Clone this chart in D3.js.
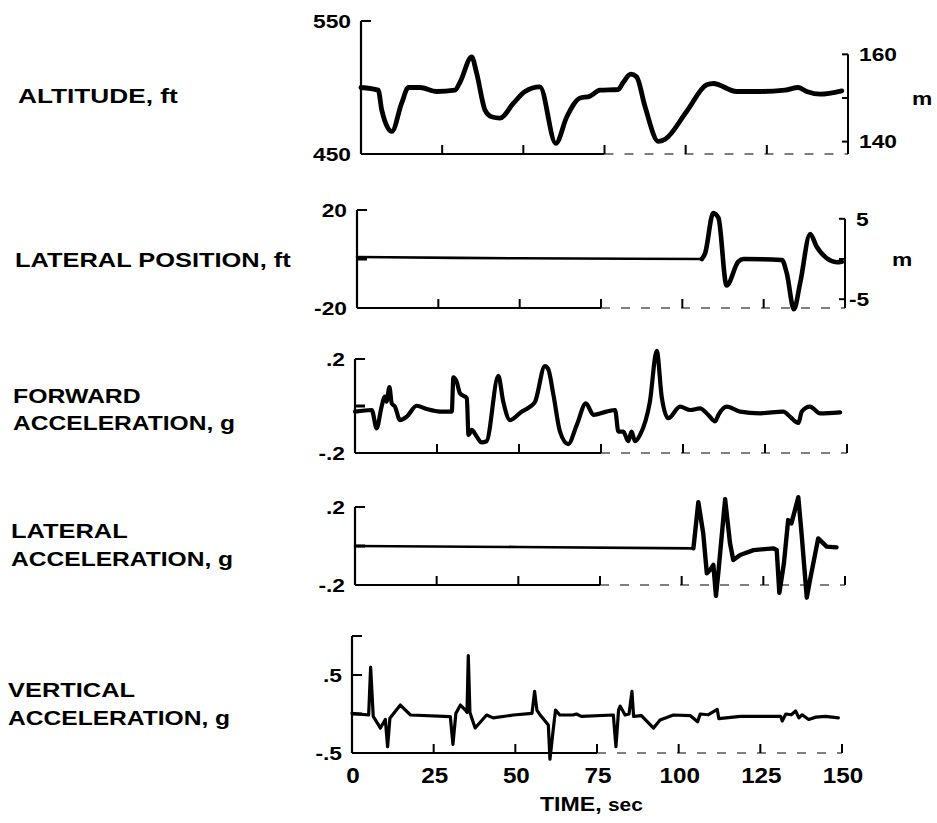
<!DOCTYPE html>
<html>
<head>
<meta charset="utf-8">
<script src="https://cdn.jsdelivr.net/npm/d3@7"></script>
<style>
  html, body { margin: 0; padding: 0; background: #fff; }
  svg { display: block; }
  text { font-family: "Liberation Sans", Arial, Helvetica, sans-serif; font-weight: bold; fill: #000; }
</style>
</head>
<body>
<svg id="chart" width="937" height="823"></svg>
<script>
// ---- Flight record: time histories over a 150 s run ----
const FT_PER_M = 3.28084;

// Shared time axis
const timeTicks = [0, 25, 50, 75, 100, 125, 150];
const timeTickLabels = ["0", "25", "50", "75", "100", "125", "150"];

// Altitude, ft
const altitudeTime = [0, 5.3, 6.4, 9.5, 12.5, 14.6, 18.2, 23.3, 28.9, 30.5, 34.1, 35.6, 38.2, 40.2, 42.8, 46.9, 50.5, 55.1, 60.0, 63.4, 67.4, 70.5, 73.6, 79.2, 80.8, 83.1, 84.9, 87.5, 91.6, 93.6, 100.3, 106.5, 108.5, 115.7, 122.9, 130.6, 134.7, 137.3, 141.4, 148.1];
const altitudeFt = [500, 498, 483, 467, 488, 500, 500, 497, 498, 504, 523, 511, 483, 478, 477, 488, 497, 500.5, 458, 478, 492, 493.5, 498, 498.5, 504, 510, 508, 485.5, 459.5, 461, 482, 502, 503, 497, 497, 498, 500, 497, 495, 497.5];
const altitudeTicks = [450, 500, 550];
const altitudeTickLabels = ["450", "", "550"];
const altitudeMetreTicks = [140, 150, 160];
const altitudeMetreLabels = ["140", "", "160"];

// Lateral position, ft
const lateralPosTime = [0, 50, 106, 107, 109.5, 111.1, 113.6, 117.2, 118.8, 130.6, 132.1, 134.3, 136.2, 139.3, 141.3, 144.4, 147.5, 149];
const lateralPosFt = [0.8, 0.3, 0, 2.3, 18.8, 16.8, -10.8, -1.1, 0, -0.4, -5.8, -20.5, -9.9, 10.2, 5, 0.3, -1.3, -1.1];
const lateralPosTicks = [-20, 0, 20];
const lateralPosTickLabels = ["-20", "", "20"];
const lateralPosMetreTicks = [-5, 0, 5];
const lateralPosMetreLabels = ["-5", "", "5"];

// Forward acceleration, g
const forwardAccTime = [0, 5.1, 6.6, 8.1, 9.1, 9.6, 10.5, 11.2, 12.2, 13.7, 15.8, 18.8, 21.9, 25.9, 29.5, 30.0, 31.0, 32.0, 34.1, 34.6, 35.6, 37.1, 38.6, 40.1, 43.7, 45.2, 47.3, 50.8, 53.4, 54.9, 57.9, 58.9, 60.5, 62.5, 65.0, 67.6, 70.4, 72.7, 76.7, 79.3, 80.3, 81.8, 83.3, 84.3, 85.4, 86.9, 89.9, 92.0, 93.5, 95.5, 99.1, 102.2, 105.2, 107.7, 109.8, 110.8, 113.3, 117.4, 123.5, 130.6, 132.6, 135.2, 136.2, 138.7, 141.8, 147.9];
const forwardAccG = [-0.024, -0.017, -0.095, -0.003, 0.04, 0.018, 0.08, 0.011, -0.003, -0.06, -0.045, 0.001, -0.013, -0.024, -0.024, 0.122, 0.103, 0.054, 0.033, -0.123, -0.102, -0.13, -0.155, -0.15, 0.128, 0.018, -0.06, -0.024, -0.003, 0.018, 0.17, 0.157, 0.047, -0.109, -0.162, -0.081, 0.011, -0.038, -0.024, -0.017, -0.109, -0.109, -0.15, -0.109, -0.15, -0.123, 0.018, 0.235, 0.04, -0.052, -0.003, -0.017, -0.01, -0.038, -0.065, -0.038, -0.003, -0.024, -0.031, -0.024, -0.045, -0.072, -0.024, -0.003, -0.031, -0.027];
const forwardAccTicks = [-0.2, 0, 0.2];
const forwardAccTickLabels = ["-.2", "", ".2"];

// Lateral acceleration, g
const lateralAccTime = [0, 50, 103.6, 105.1, 106.6, 107.7, 108.7, 109.7, 110.5, 111.3, 113.3, 114.8, 115.8, 117.9, 122.0, 128.0, 129.1, 129.9, 131.3, 132.6, 133.6, 135.7, 136.7, 138.3, 139.3, 141.8, 144.4, 147.4];
const lateralAccG = [0, -0.005, -0.012, 0.225, 0.065, -0.14, -0.123, -0.097, -0.255, -0.123, 0.24, 0.014, -0.072, -0.046, -0.021, -0.012, -0.021, -0.24, -0.089, 0.133, 0.116, 0.25, 0.065, -0.265, -0.174, 0.039, -0.003, -0.007];
const lateralAccTicks = [-0.2, 0, 0.2];
const lateralAccTickLabels = ["-.2", "", ".2"];

// Vertical acceleration, g
const verticalAccTime = [0, 5.1, 5.7, 6.5, 8.7, 10.2, 10.9, 11.6, 14.8, 17.9, 30.1, 30.9, 31.8, 33.2, 34.7, 35.2, 35.6, 36.1, 37.7, 41.2, 43.2, 49.4, 55.1, 55.9, 56.6, 57.6, 60.1, 60.6, 61.6, 62.3, 63.6, 67.6, 68.7, 70.2, 80.0, 80.8, 81.6, 82.1, 83.6, 84.8, 85.7, 86.2, 88.6, 92.3, 94.3, 98.4, 103.5, 105.8, 106.6, 109, 111.8, 112.3, 118.9, 131.2, 131.7, 132.8, 134.5, 135.8, 136.8, 137.8, 139.8, 142, 145, 148.9];
const verticalAccG = [0.008, -0.013, 0.6, -0.03, -0.18, -0.07, -0.42, -0.055, 0.115, -0.013, -0.034, -0.39, 0.008, 0.115, 0.05, 0.02, 0.75, 0.02, -0.18, -0.013, -0.05, -0.013, 0.008, 0.29, 0.05, -0.013, -0.14, -0.58, -0.2, 0.05, -0.013, -0.013, 0.0, -0.03, -0.013, -0.42, 0.05, 0.1, -0.013, 0.0, 0.29, -0.03, -0.02, -0.18, -0.077, -0.013, -0.02, -0.1, 0.0, -0.01, 0.06, -0.06, -0.03, -0.03, -0.09, 0.0, -0.01, 0.04, -0.05, -0.01, -0.07, -0.04, -0.03, -0.05];
const verticalAccTicks = [-0.5, 0, 0.5, 1.0];
const verticalAccTickLabels = ["-.5", "", ".5", ""];

// ---- Layout of the five strips ----
const panels = [
  { title: ["ALTITUDE, ft"], titleX: 18, titleY: [103], titleStretch: [1.28],
    t: altitudeTime, v: altitudeFt, domain: [450, 550],
    ticks: altitudeTicks, tickLabels: altitudeTickLabels,
    box: { left: 361, right: 848, top: 21, bottom: 154 },
    curve: d3.curveMonotoneX, width: 4.8, thinUntil: null,
    metre: { ticks: altitudeMetreTicks, labels: altitudeMetreLabels, unitDx: 64 } },
  { title: ["LATERAL POSITION, ft"], titleX: 15, titleY: [267], titleStretch: [1.24],
    t: lateralPosTime, v: lateralPosFt, domain: [-20, 20],
    ticks: lateralPosTicks, tickLabels: lateralPosTickLabels,
    box: { left: 357, right: 845, top: 210, bottom: 308 },
    curve: d3.curveMonotoneX, width: 4.6, thinUntil: 106,
    metre: { ticks: lateralPosMetreTicks, labels: lateralPosMetreLabels, unitDx: 47 } },
  { title: ["FORWARD", "ACCELERATION, g"], titleX: 13, titleY: [403, 430], titleStretch: [1.21, 1.2],
    t: forwardAccTime, v: forwardAccG, domain: [-0.2, 0.2],
    ticks: forwardAccTicks, tickLabels: forwardAccTickLabels,
    box: { left: 355, right: 847, top: 359, bottom: 453 },
    curve: d3.curveMonotoneX, width: 4.2, thinUntil: null, metre: null },
  { title: ["LATERAL", "ACCELERATION, g"], titleX: 11, titleY: [538, 566], titleStretch: [1.24, 1.2],
    t: lateralAccTime, v: lateralAccG, domain: [-0.2, 0.2],
    ticks: lateralAccTicks, tickLabels: lateralAccTickLabels,
    box: { left: 355, right: 845, top: 507, bottom: 585 },
    curve: d3.curveLinear, width: 4.4, thinUntil: 103.6, metre: null },
  { title: ["VERTICAL", "ACCELERATION, g"], titleX: 8, titleY: [697, 725], titleStretch: [1.24, 1.2],
    t: verticalAccTime, v: verticalAccG, domain: [-0.5, 1.0],
    ticks: verticalAccTicks, tickLabels: verticalAccTickLabels,
    box: { left: 352, right: 842, top: 636, bottom: 753 },
    curve: d3.curveLinear, width: 3.2, thinUntil: null, metre: null }
];

const svg = d3.select("#chart");
svg.append("rect").attr("width", 937).attr("height", 823).attr("fill", "#fff");

// Text helper: the lettering is set wide, so glyphs are stretched horizontally
function label(g, x, y, str, size, stretch, anchor, baseline) {
  return g.append("text")
    .attr("transform", `translate(${x},${y}) scale(${stretch},1)`)
    .attr("text-anchor", anchor || "start")
    .attr("dominant-baseline", baseline || "alphabetic")
    .style("font-size", size + "px")
    .text(str);
}

panels.forEach((p, i) => {
  const g = svg.append("g");
  const x = d3.scaleLinear().domain([0, 150]).range([p.box.left, p.box.right]);
  const y = d3.scaleLinear().domain(p.domain).range([p.box.bottom, p.box.top]);
  const [lo, hi] = p.domain;

  // Strip title on the left
  p.title.forEach((line, k) => label(g, p.titleX, p.titleY[k], line, 20.5, p.titleStretch[k]));

  // Left vertical scale bracket
  g.append("line")
    .attr("x1", x(0)).attr("x2", x(0))
    .attr("y1", y(hi)).attr("y2", y(lo))
    .attr("stroke", "#000").attr("stroke-width", 2.2);
  p.ticks.forEach((tv, k) => {
    if (tv !== lo) {
      g.append("line")
        .attr("x1", x(0)).attr("x2", x(0) + 10)
        .attr("y1", y(tv)).attr("y2", y(tv))
        .attr("stroke", "#000").attr("stroke-width", tv === 0 || tv === 500 ? 3 : 2);
    }
    if (p.tickLabels[k]) {
      label(g, x(0) - 10, y(tv), p.tickLabels[k], 19, 1.2, "end", "central");
    }
  });

  // Time baseline: solid trace, fading to a broken one toward the right
  g.append("line")
    .attr("x1", x(0)).attr("x2", x(75))
    .attr("y1", y(lo)).attr("y2", y(lo))
    .attr("stroke", "#000").attr("stroke-width", 2);
  g.append("line")
    .attr("x1", x(75)).attr("x2", x(150))
    .attr("y1", y(lo)).attr("y2", y(lo))
    .attr("stroke", "#555").attr("stroke-width", 1.4)
    .attr("stroke-dasharray", "9 11");
  timeTicks.filter(t => t > 0).forEach(t => {
    g.append("line")
      .attr("x1", x(t)).attr("x2", x(t))
      .attr("y1", y(lo)).attr("y2", y(lo) - 9)
      .attr("stroke", "#000").attr("stroke-width", 2);
  });

  // Metric scale on the right
  if (p.metre) {
    const ym = d3.scaleLinear()
      .domain(p.domain.map(v => v / FT_PER_M))
      .range([p.box.bottom, p.box.top]);
    const mTop = d3.max(p.metre.ticks);
    g.append("line")
      .attr("x1", x(150)).attr("x2", x(150))
      .attr("y1", ym(mTop)).attr("y2", y(lo))
      .attr("stroke", "#000").attr("stroke-width", 2);
    p.metre.ticks.forEach((mv, k) => {
      g.append("line")
        .attr("x1", x(150) - 6).attr("x2", x(150))
        .attr("y1", ym(mv)).attr("y2", ym(mv))
        .attr("stroke", "#000").attr("stroke-width", 2);
      const s = p.metre.labels[k];
      if (s) label(g, x(150) + (s[0] === "-" ? 4 : 11), ym(mv), s, 19, 1.2, "start", "central");
    });
    const mMid = d3.mean(p.metre.ticks);
    label(g, x(150) + p.metre.unitDx, ym(mMid), "m", 19, 1.2, "start", "central");
  }

  // Recorded trace
  const pts = p.t.map((t, k) => [t, p.v[k]]);
  const line = d3.line().x(d => x(d[0])).y(d => y(d[1])).curve(p.curve);
  if (p.thinUntil !== null) {
    const quiet = pts.filter(d => d[0] <= p.thinUntil);
    const active = pts.filter(d => d[0] >= p.thinUntil);
    g.append("path").attr("d", line(quiet))
      .attr("fill", "none").attr("stroke", "#000").attr("stroke-width", 2.6)
      .attr("stroke-linecap", "round");
    g.append("path").attr("d", line(active))
      .attr("fill", "none").attr("stroke", "#000").attr("stroke-width", p.width)
      .attr("stroke-linejoin", "round").attr("stroke-linecap", "round");
  } else {
    g.append("path").attr("d", line(pts))
      .attr("fill", "none").attr("stroke", "#000").attr("stroke-width", p.width)
      .attr("stroke-linejoin", "round").attr("stroke-linecap", "round");
  }

  // Time labels under the last strip
  if (i === panels.length - 1) {
    timeTicks.forEach((t, k) => {
      label(g, x(t) + 1, 783, timeTickLabels[k], 22, 1.1, "middle");
    });
    const tt = g.append("text")
      .attr("transform", "translate(540,811) scale(1.1,1)")
      .style("font-size", "21px");
    tt.append("tspan").text("TIME, ");
    tt.append("tspan").style("font-size", "19px").text("sec");
  }
});
</script>
</body>
</html>
